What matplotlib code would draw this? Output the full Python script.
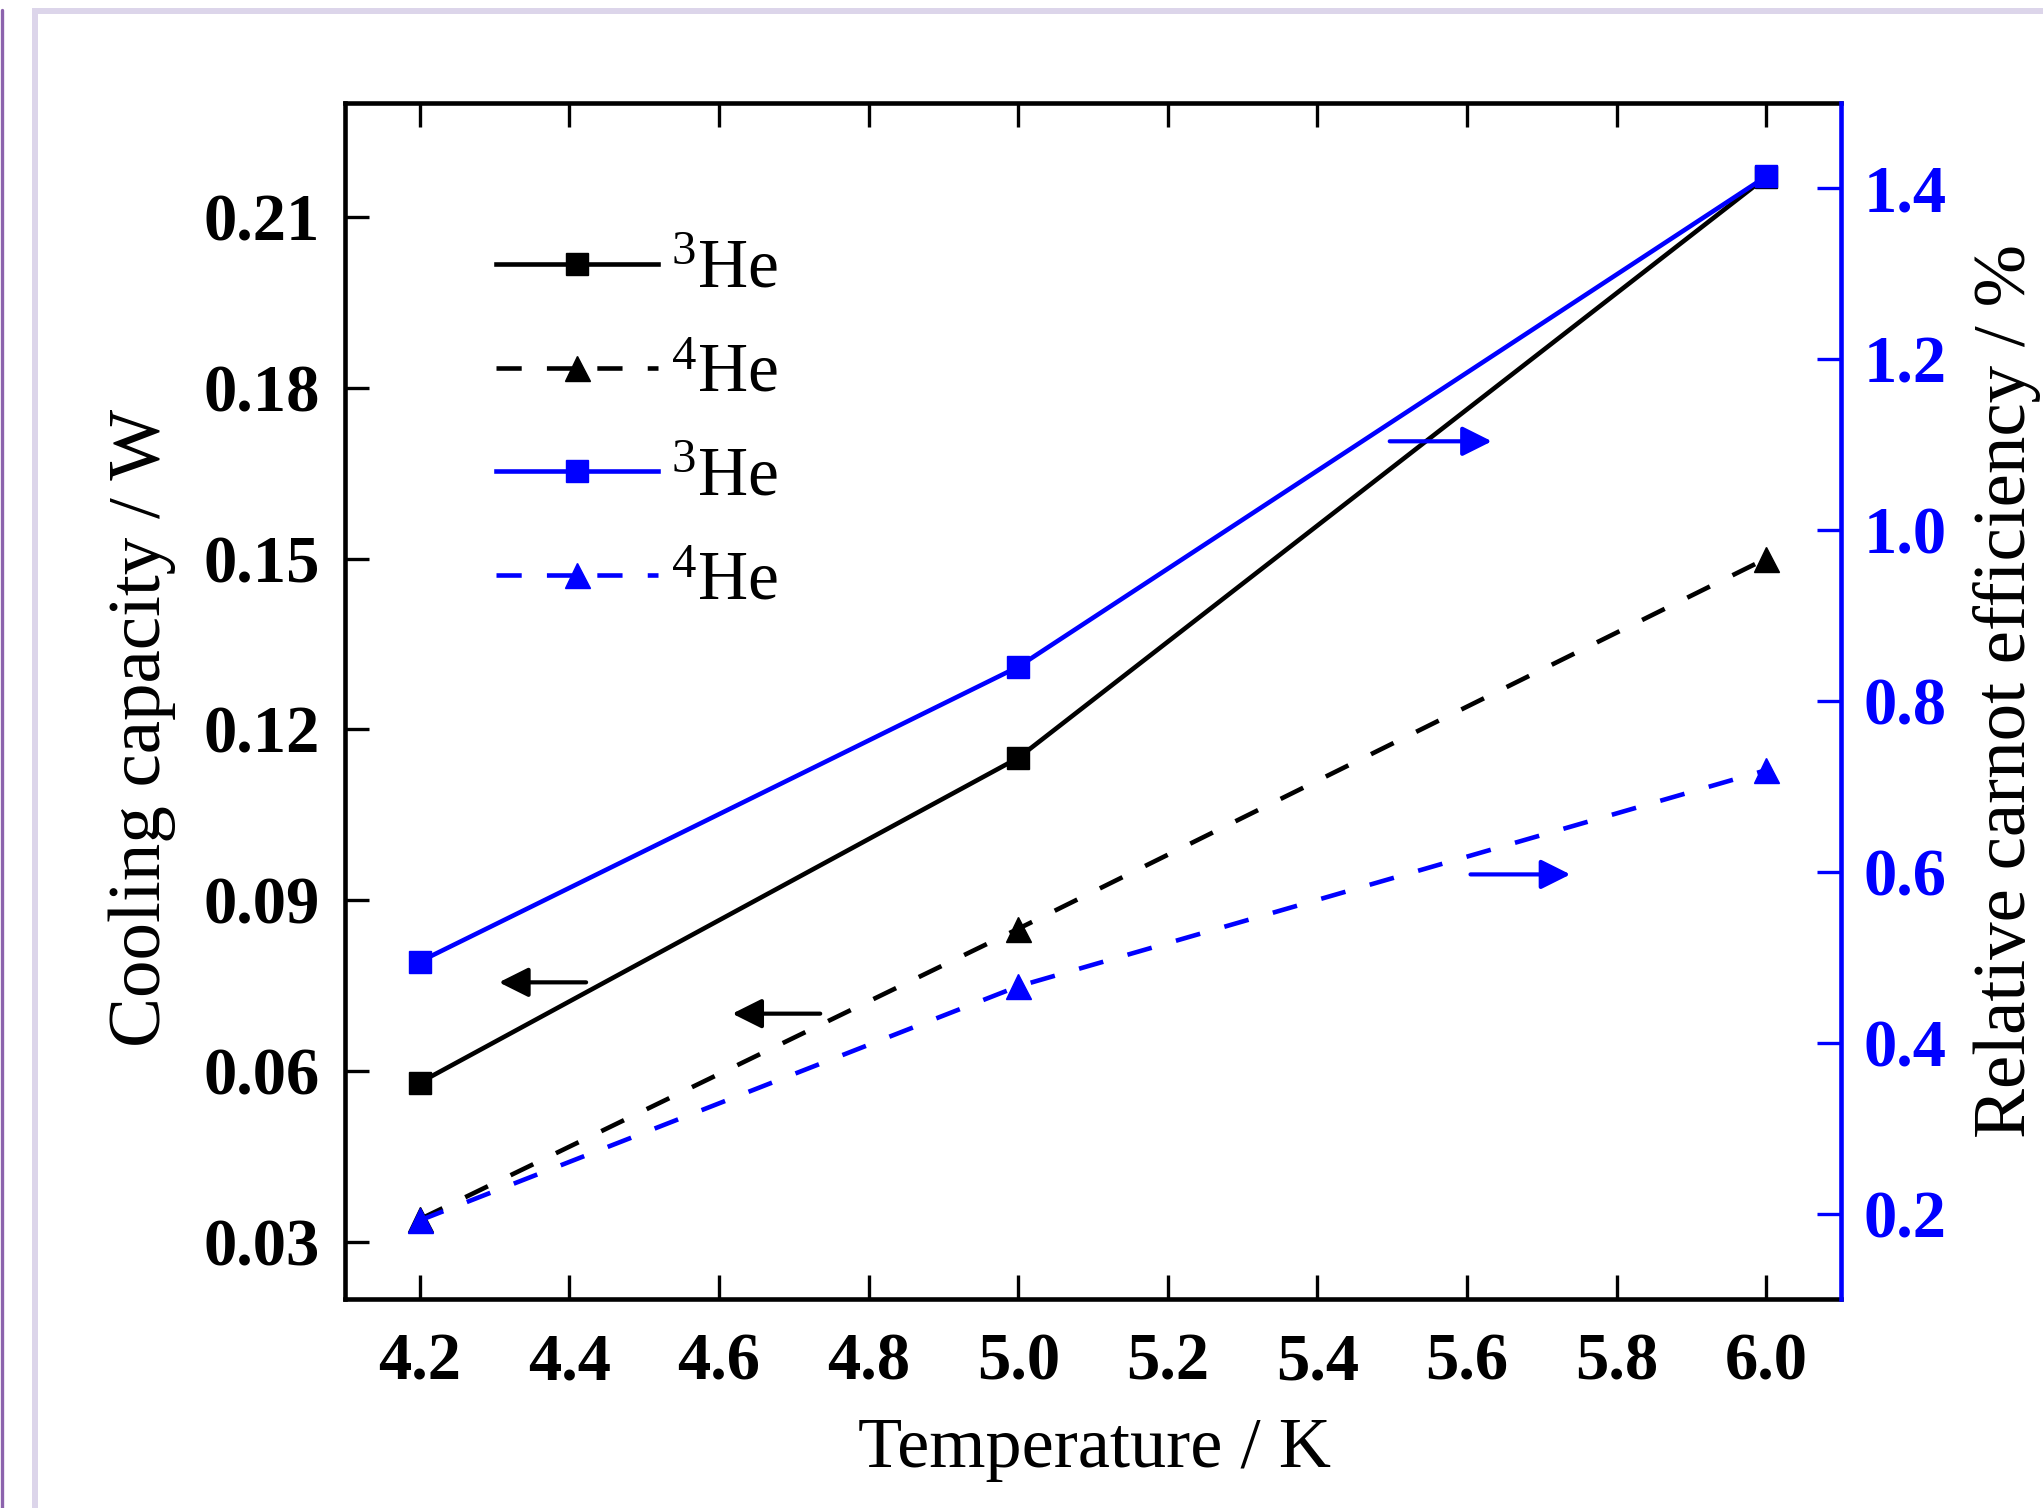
import numpy as np
import matplotlib
matplotlib.use('Agg')
import matplotlib.pyplot as plt
from matplotlib.patches import Rectangle
from matplotlib.lines import Line2D

# Fonts: Times-like serif everywhere, superscripts through mathtext
plt.rcParams['font.family'] = ['Liberation Serif', 'DejaVu Serif']
plt.rcParams['mathtext.fontset'] = 'custom'
plt.rcParams['mathtext.rm'] = 'Liberation Serif'
plt.rcParams['mathtext.it'] = 'Liberation Serif:italic'
plt.rcParams['mathtext.bf'] = 'Liberation Serif:bold'

# Data
temps = [4.2, 5.0, 6.0]
cap_he3 = [0.058, 0.115, 0.217]      # cooling capacity / W (left axis)
cap_he4 = [0.034, 0.085, 0.150]
eff_he3 = [0.495, 0.840, 1.414]      # relative carnot efficiency / % (right axis)
eff_he4 = [0.192, 0.466, 0.719]
legend_labels = [r'$^{3}$He', r'$^{4}$He', r'$^{3}$He', r'$^{4}$He']

x_ticks = [4.2, 4.4, 4.6, 4.8, 5.0, 5.2, 5.4, 5.6, 5.8, 6.0]
left_ticks = [0.03, 0.06, 0.09, 0.12, 0.15, 0.18, 0.21]
right_ticks = [0.2, 0.4, 0.6, 0.8, 1.0, 1.2, 1.4]

# direction arrows (start x, end x, y)
left_arrows = [(4.426, 4.302, 0.0756), (4.739, 4.614, 0.0701)]
right_arrows = [(5.493, 5.637, 1.104), (5.601, 5.742, 0.597)]

BLUE = '#0000ff'
LW = 3.3

fig = plt.figure(figsize=(20.43, 15.08), dpi=100)
ax = fig.add_axes([0.1689, 0.1386, 0.7322, 0.7931])
ax2 = ax.twinx()

l1, = ax.plot(temps, cap_he3, color='k', lw=LW, marker='s', ms=16)
l2, = ax.plot(temps, cap_he4, color='k', lw=LW, ls=(0, (5.5, 5.5)), marker='^', ms=18)
l3, = ax2.plot(temps, eff_he3, color=BLUE, lw=LW, marker='s', ms=16)
l4, = ax2.plot(temps, eff_he4, color=BLUE, lw=LW, ls=(0, (5.5, 5.5)), marker='^', ms=18)

for x0, x1, y in left_arrows:
    ax.annotate('', xy=(x1, y), xytext=(x0, y),
                arrowprops=dict(arrowstyle='-|>', color='k', lw=3, mutation_scale=45))
for x0, x1, y in right_arrows:
    ax2.annotate('', xy=(x1, y), xytext=(x0, y),
                 arrowprops=dict(arrowstyle='-|>', color=BLUE, lw=3, mutation_scale=45))

# axes ranges and ticks
ax.set_xlim(4.1, 6.1)
ax.set_ylim(0.02, 0.23)
ax2.set_ylim(0.1, 1.5)
ax.set_xticks(x_ticks)
ax.set_xticklabels(['{:.1f}'.format(v) for v in x_ticks])
ax.set_yticks(left_ticks)
ax.set_yticklabels(['{:.2f}'.format(v) for v in left_ticks])
ax2.set_yticks(right_ticks)
ax2.set_yticklabels(['{:.1f}'.format(v) for v in right_ticks])

ax.tick_params(axis='x', direction='in', top=True, length=17, width=2.4,
               labelsize=48, pad=24)
ax.tick_params(axis='y', direction='in', right=False, length=17, width=2.4,
               labelsize=48, pad=18)
ax2.tick_params(axis='y', direction='in', length=17, width=2.4, labelsize=48,
                pad=16, colors=BLUE)
for lab in ax.get_xticklabels() + ax.get_yticklabels() + ax2.get_yticklabels():
    lab.set_fontweight('bold')

for sp in ax.spines.values():
    sp.set_linewidth(LW)
ax.spines['right'].set_visible(False)
for name in ['left', 'top', 'bottom']:
    ax2.spines[name].set_visible(False)
ax2.spines['right'].set_color(BLUE)
ax2.spines['right'].set_linewidth(LW)

# axis titles
fig.text(0.5357, 0.0385, 'Temperature / K', fontsize=52, ha='center', va='center')
fig.text(0.0695, 0.5172, 'Cooling capacity / W', fontsize=54, rotation=90,
         ha='center', va='center')
fig.text(0.9825, 0.542, 'Relative carnot efficiency / %', fontsize=54, rotation=90,
         ha='center', va='center')

leg = ax2.legend([l1, l2, l3, l4], legend_labels, loc='upper left',
                 bbox_to_anchor=(0.101, 0.886), frameon=False, fontsize=50,
                 handlelength=2.33, handletextpad=0.19, labelspacing=0.58,
                 borderpad=0, borderaxespad=0)

# page decoration around the figure (cropped screenshot look)
fig.patches.append(Rectangle((35 / 2043, -0.1), 1.2, 1 - 11 / 1508 + 0.1,
                             transform=fig.transFigure, fill=False,
                             edgecolor='#dcd5ea', lw=4.3))
fig.add_artist(Line2D([1.5 / 2043, 1.5 / 2043], [0, 1 - 10 / 1508],
                      transform=fig.transFigure, color='#8c63ad', lw=2.4,
                      solid_capstyle='round'))

fig.savefig('out.png', dpi=100)
